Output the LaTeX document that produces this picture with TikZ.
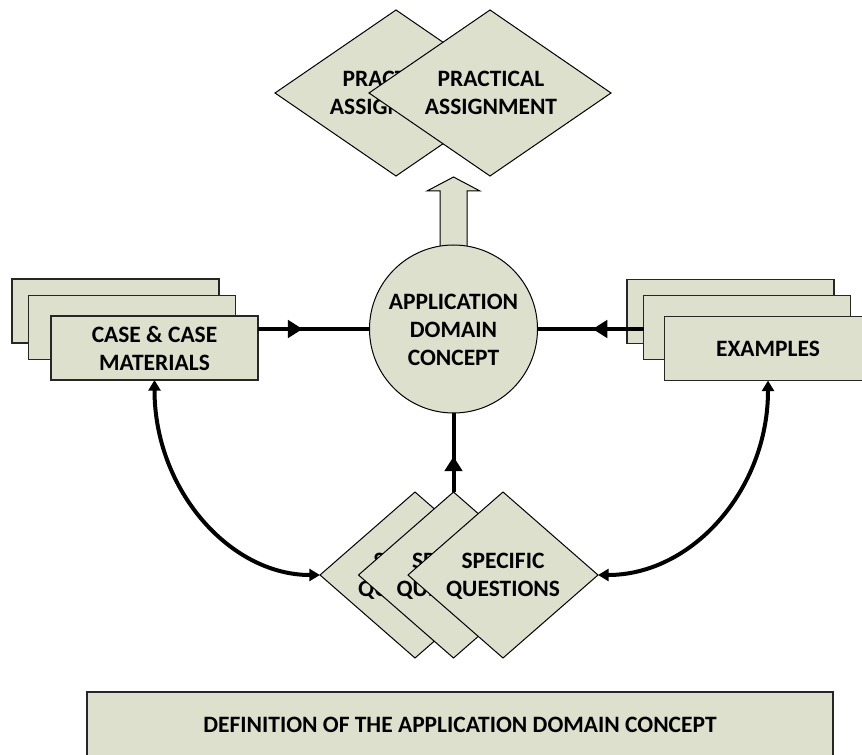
\documentclass[tikz,border=0pt]{standalone}
\usepackage{fontspec}
\setmainfont{Carlito}
\usetikzlibrary{shapes.geometric,arrows.meta,decorations.markings}
\definecolor{boxfill}{RGB}{221,224,204}
\begin{document}
\begin{tikzpicture}[x=0.75pt,y=-0.75pt,
  lbl/.style={font=\fontsize{17.6}{21}\selectfont\bfseries, align=center, inner sep=0pt},
  dia/.style={diamond, draw=black, line width=0.75pt, fill=boxfill, inner sep=0pt, outer sep=0pt, minimum height=124.5pt},
  bigdia/.style={dia, minimum width=181.5pt},
  smalldia/.style={dia, minimum width=142.5pt},
  card/.style={rectangle, draw=black!85, line width=1.1pt, fill=boxfill, minimum width=155.25pt, minimum height=48pt, inner sep=0pt, outer sep=0pt},
  conn/.style={line width=3pt, draw=black},
  midarrow/.style={postaction={decorate}, decoration={markings, mark=at position #1 with {\arrow{Triangle[length=11pt,width=13pt]}}}},
  endtip/.style={{Triangle[length=8pt,width=9pt]}-{Triangle[length=8pt,width=9pt]}}
]
\clip (0,0) rectangle (862,755);
\fill[white] (0,0) rectangle (862,755);

% top diamonds
\node[bigdia] (P1) at (396,93) {};
\node[lbl] (P1t) at (396,93) {PRACTICAL\\ASSIGNMENT};
\node[bigdia] (P2) at (490,93) {};
\node[lbl] (P2t) at (491,93) {PRACTICAL\\ASSIGNMENT};

% block arrow
\coordinate (BA) at (453.5,250);
\draw[fill=boxfill, line width=0.75pt] (BA) ++(-13.5,0) -- ++(0,-59) -- ++(-13,0) -- ++(26.5,-14) -- ++(26.5,14) -- ++(-13,0) -- ++(0,59) -- cycle;

% central circle
\node[circle, draw=black, line width=0.75pt, fill=boxfill, minimum size=126pt, inner sep=0pt, outer sep=0pt] (C) at (453.5,329) {};
\node[lbl] (Ct) at (453.5,330) {APPLICATION\\DOMAIN\\CONCEPT};

% left stack
\node[card] (L1) at (115.5,311) {};
\node[card] (L2) at (132,327.5) {};
\node[card] (L3) at (154.5,348) {};
\node[lbl] (L3t) at (154.5,348) {CASE \& CASE\\MATERIALS};

% right stack
\node[card] (R1) at (730.5,311.5) {};
\node[card] (R2) at (747,327.5) {};
\node[card] (R3) at (768,348.5) {};
\node[lbl] (R3t) at (768,348.5) {EXAMPLES};

% bottom diamonds
\node[smalldia] (Q1) at (415,575) {};
\node[lbl] (Q1t) at (415,576) {SPECIFIC\\QUESTIONS};
\node[smalldia] (Q2) at (453.5,575) {};
\node[lbl] (Q2t) at (453.5,576) {SPECIFIC\\QUESTIONS};
\node[smalldia] (Q3) at (503,575) {};
\node[lbl] (Q3t) at (503,576) {SPECIFIC\\QUESTIONS};

% bottom box
\node[rectangle, draw=black!85, line width=1.1pt, fill=boxfill, minimum width=559.5pt, minimum height=60pt, inner sep=0pt, outer sep=0pt] (D) at (460,732) {};
\node[lbl] (Dt) at (460,725) {DEFINITION OF THE APPLICATION DOMAIN CONCEPT};

% connectors
\draw[conn, midarrow=0.4] (L3.east |- C.west) -- (C.west);
\draw[conn, midarrow=0.48] (R2.west |- C.east) -- (C.east);
\draw[conn, midarrow=0.45] (Q2.north) -- (C.south);
\draw[conn, endtip] (L3.south) .. controls (154.5,490) and (230,575) .. (Q1.west);
\draw[conn, endtip] (R3.south) .. controls (768,490) and (692,575) .. (Q3.east);
\end{tikzpicture}
\end{document}
